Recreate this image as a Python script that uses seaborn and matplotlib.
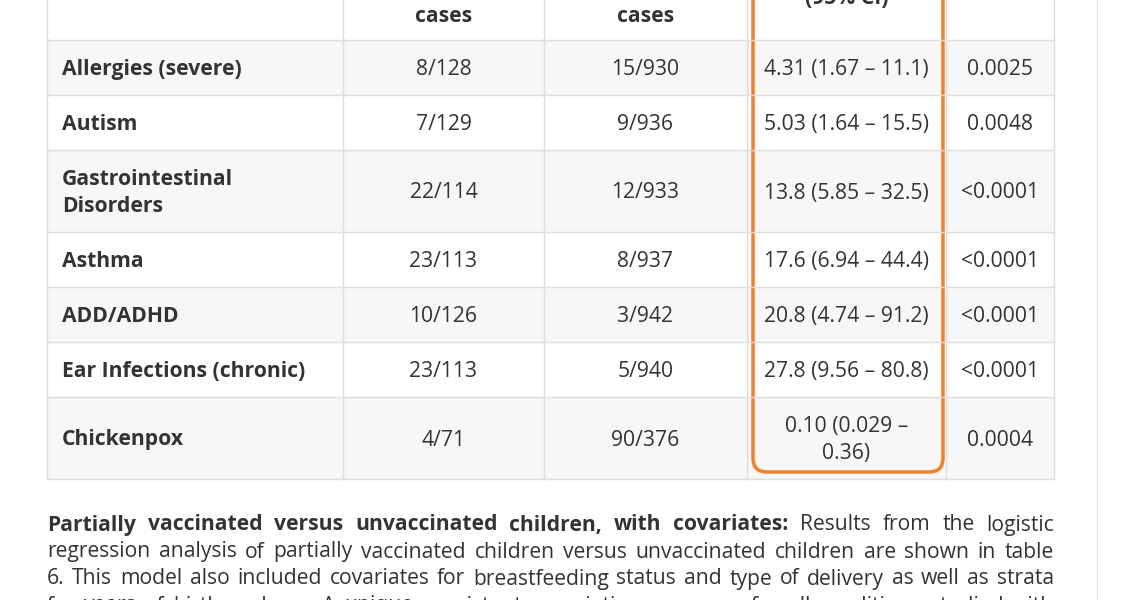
import matplotlib
matplotlib.use("Agg")
import matplotlib.pyplot as plt
from matplotlib.patches import Rectangle, FancyBboxPatch
import seaborn as sns

sns.set_style("white")
plt.rcParams["font.family"] = "Open Sans"

conditions = ["Allergies (severe)", "Autism", "Gastrointestinal\nDisorders", "Asthma",
              "ADD/ADHD", "Ear Infections (chronic)", "Chickenpox"]
partial_cases = ["8/128", "7/129", "22/114", "23/113", "10/126", "23/113", "4/71"]
unvacc_cases = ["15/930", "9/936", "12/933", "8/937", "3/942", "5/940", "90/376"]
odds_ratio = ["4.31 (1.67 – 11.1)", "5.03 (1.64 – 15.5)", "13.8 (5.85 – 32.5)",
              "17.6 (6.94 – 44.4)", "20.8 (4.74 – 91.2)", "27.8 (9.56 – 80.8)",
              "0.10 (0.029 –\n0.36)"]
p_values = ["0.0025", "0.0048", "<0.0001", "<0.0001", "<0.0001", "<0.0001", "0.0004"]

paragraph = [
    [("Partially vaccinated versus unvaccinated children, with covariates:", True),
     ("Results from the logistic", False)],
    [("regression analysis of partially vaccinated children versus unvaccinated children are shown in table", False)],
    [("6. This model also included covariates for breastfeeding status and type of delivery as well as strata", False)],
    [("for years of birth and sex. A unique consistent association was seen for all conditions studied with", False)],
]

col_x = [47, 343, 544, 747, 946, 1054]
row_y = [-20, 40, 95, 150, 232, 287, 342, 397, 479]
text_c = "#333333"
line_c = "#dddddd"
fs = 15.2
dy = 2

fig = plt.figure(figsize=(11.29, 6), dpi=100)
ax = fig.add_axes([0, 0, 1, 1])
ax.set_xlim(0, 1129)
ax.set_ylim(600, 0)
ax.axis("off")

# row shading and grid
for i in range(len(row_y) - 1):
    if i % 2 == 1:
        ax.add_patch(Rectangle((col_x[0], row_y[i]), col_x[-1] - col_x[0],
                               row_y[i + 1] - row_y[i], color="#f7f7f7", lw=0))
for y in row_y[1:]:
    ax.plot([col_x[0], col_x[-1]], [y, y], color=line_c, lw=1)
for x in col_x:
    ax.plot([x, x], [row_y[0], row_y[-1]], color=line_c, lw=1)
ax.plot([1097, 1097], [0, 600], color="#e6e6e6", lw=1)

# header (cut off at top)
ax.text((col_x[1] + col_x[2]) / 2, 14 + dy, "cases", ha="center", va="center",
        fontsize=fs, fontweight="bold", color=text_c)
ax.text((col_x[2] + col_x[3]) / 2, 14 + dy, "cases", ha="center", va="center",
        fontsize=fs, fontweight="bold", color=text_c)
ax.text((col_x[3] + col_x[4]) / 2, -2, "(95% CI)", ha="center", va="center",
        fontsize=fs, fontweight="bold", color=text_c)

cols = [partial_cases, unvacc_cases, odds_ratio, p_values]
for i, name in enumerate(conditions):
    yc = (row_y[i + 1] + row_y[i + 2]) / 2 + dy
    ax.text(62, yc, name, ha="left", va="center", fontsize=fs,
            fontweight="bold", color=text_c, linespacing=1.35)
    for j, col in enumerate(cols):
        ax.text((col_x[j + 1] + col_x[j + 2]) / 2, yc, col[i], ha="center",
                va="center", fontsize=fs, color=text_c, linespacing=1.35)

# orange highlight
ax.add_patch(FancyBboxPatch((753, -30), 190, 502, boxstyle="round,pad=0,rounding_size=14",
                            fill=False, ec="#f0802a", lw=2.5))

# justified paragraph
fig.canvas.draw()
renderer = fig.canvas.get_renderer()
left, right = 47, 1054
for k, line in enumerate(paragraph):
    y = 523 + dy + k * 27
    words = [(w, b) for seg, b in line for w in seg.split()]
    arts = [ax.text(0, y, w, fontsize=fs, fontweight="bold" if b else "normal",
                    color=text_c, va="center") for w, b in words]
    widths = [a.get_window_extent(renderer).width for a in arts]
    gap = (right - left - sum(widths)) / (len(arts) - 1)
    x = left
    for a, w in zip(arts, widths):
        a.set_x(x)
        x += w + gap

fig.savefig("out.png", dpi=100)
